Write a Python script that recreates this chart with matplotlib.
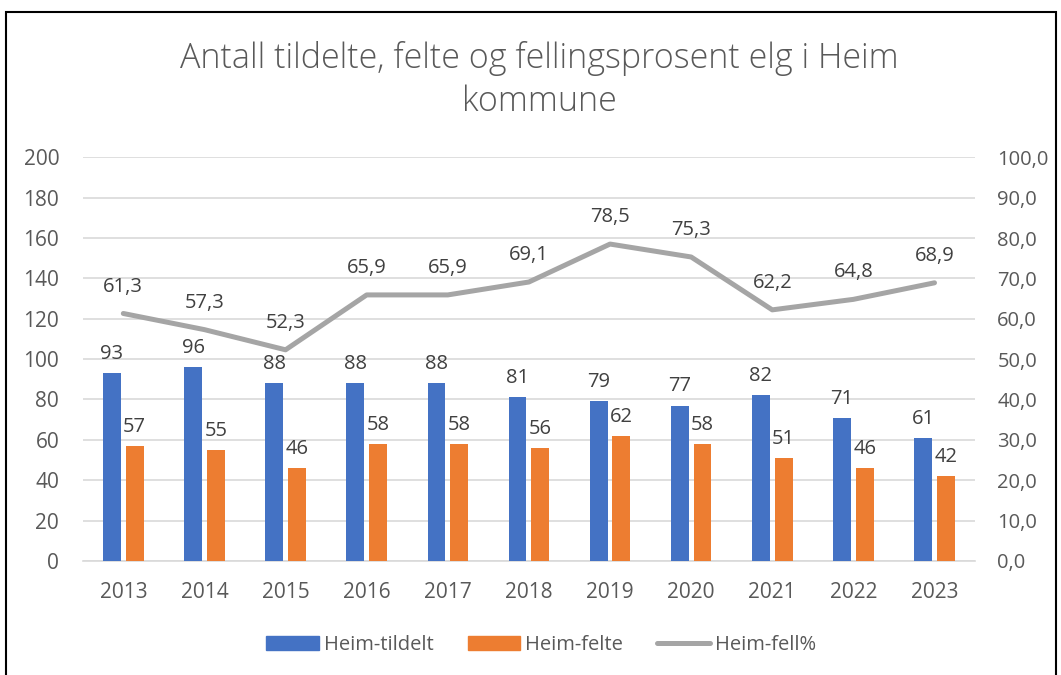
"""
Tildelte, felte og fellingsprosent elg i Heim kommune 2013-2023
"""

import numpy as np
import matplotlib.pyplot as plt
from matplotlib.patches import Rectangle
from matplotlib.lines import Line2D

plt.rcParams['font.family'] = ['Open Sans', 'DejaVu Sans']

# data
years = ['2013', '2014', '2015', '2016', '2017', '2018', '2019', '2020', '2021', '2022', '2023']
tildelt = [93, 96, 88, 88, 88, 81, 79, 77, 82, 71, 61]
felte = [57, 55, 46, 58, 58, 56, 62, 58, 51, 46, 42]
fellpst = [61.3, 57.3, 52.3, 65.9, 65.9, 69.1, 78.5, 75.3, 62.2, 64.8, 68.9]

blue = '#4472C4'
orange = '#ED7D31'
grey = '#A5A5A5'
txt = '#595959'
lbl = '#404040'

fig = plt.figure(figsize=(10.61, 6.75), dpi=100)
ax = fig.add_axes([0.078, 0.169, 0.841, 0.598])
ax2 = ax.twinx()

x = np.arange(len(years))
w = 0.22
off = 0.14

ax.bar(x - off, tildelt, w, color=blue, zorder=3)
ax.bar(x + off, felte, w, color=orange, zorder=3)
for xi, v in zip(x, tildelt):
    ax.text(xi - off, v + 4.5, str(v), ha='center', va='bottom', fontsize=14.5, color=lbl, zorder=5)
for xi, v in zip(x, felte):
    ax.text(xi + off, v + 4.5, str(v), ha='center', va='bottom', fontsize=14.5, color=lbl, zorder=5)

ax2.plot(x, fellpst, color=grey, lw=3.6, solid_capstyle='round', zorder=4)
for xi, v in zip(x, fellpst):
    ax2.text(xi, v + 4.2, f'{v:.1f}'.replace('.', ','), ha='center', va='bottom',
             fontsize=14.5, color=lbl)

ax.set_xlim(-0.5, len(years) - 0.5)
ax.set_ylim(0, 200)
ax.set_yticks(range(0, 201, 20))
ax2.set_ylim(0, 100)
ax2.set_yticks(range(0, 101, 10))
ax2.set_yticklabels([f'{t:.1f}'.replace('.', ',') for t in range(0, 101, 10)])
ax.set_xticks(x)
ax.set_xticklabels(years)

ax.grid(axis='y', color='#D9D9D9', lw=1.2, zorder=0)
for a in (ax, ax2):
    for s in a.spines.values():
        s.set_visible(False)
    a.tick_params(length=0, labelsize=15, labelcolor=txt)
ax2.tick_params(labelsize=14.5)
ax.spines['bottom'].set_visible(True)
ax.spines['bottom'].set_color('#D9D9D9')
ax.spines['bottom'].set_linewidth(1.2)
ax.tick_params(axis='y', pad=17)
ax.tick_params(axis='x', pad=15)
ax2.tick_params(axis='y', pad=16)
ax2.set_zorder(ax.get_zorder() + 1)
ax2.patch.set_visible(False)

fig.text(0.508, 0.881, 'Antall tildelte, felte og fellingsprosent elg i Heim\nkommune',
         ha='center', va='center', fontsize=24.5, fontweight='light', color=txt,
         linespacing=1.32)

handles = [Rectangle((0, 0), 1, 1, color=blue),
           Rectangle((0, 0), 1, 1, color=orange),
           Line2D([0], [0], color=grey, lw=3.6, solid_capstyle='round')]
fig.legend(handles, ['Heim-tildelt', 'Heim-felte', 'Heim-fell%'], loc='center',
           bbox_to_anchor=(0.51, 0.044), ncol=3, frameon=False, fontsize=14.5,
           labelcolor=txt, handlelength=2.6, handletextpad=0.25, columnspacing=1.7)

# ramme rundt figuren
fig.patches.append(Rectangle((6 / 1061, -0.05), 1050 / 1061, 1 - 12 / 675 + 0.05,
                             transform=fig.transFigure, fill=False, ec='black', lw=1.5))

fig.savefig('out.png', dpi=100)
